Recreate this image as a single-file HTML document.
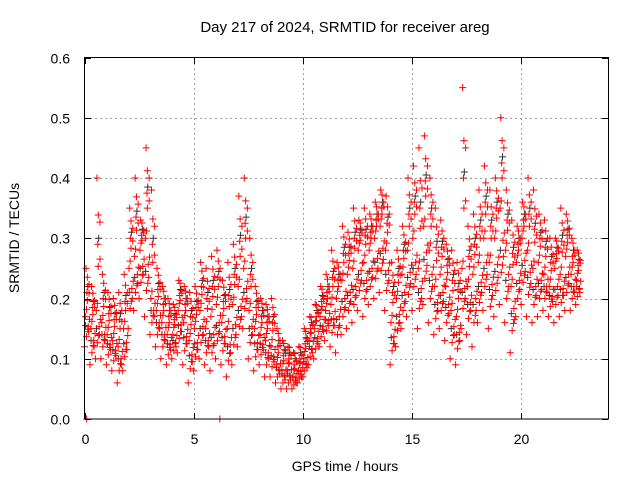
<!DOCTYPE html>
<html><head><meta charset="utf-8"><style>
body{margin:0;background:#fff;}
svg{display:block;font-family:"Liberation Sans",Arial,sans-serif;font-size:14px;}
</style></head><body>
<svg id="chart" width="640" height="480">
<text x="345" y="32" text-anchor="middle" fill="#000" style="font-size:15px">Day 217 of 2024, SRMTID for receiver areg</text>
<g id="grid"></g>
<g id="black"></g>
<g id="red"></g>
<rect x="84.5" y="57.5" width="524" height="361.5" fill="none" stroke="#000" stroke-width="1"/>
<g id="axes"></g>
<text x="345" y="471" text-anchor="middle">GPS time / hours</text>
<text transform="translate(19,238) rotate(-90)" text-anchor="middle">SRMTID / TECUs</text>
</svg>
<script>
const hours=[0,0.25,0.5,0.75,1,1.25,1.5,1.75,2,2.25,2.5,2.75,3,3.25,3.5,3.75,4,4.25,4.5,4.75,5,5.25,5.5,5.75,6,6.25,6.5,6.75,7,7.25,7.5,7.75,8,8.25,8.5,8.75,9,9.25,9.5,9.75,10,10.25,10.5,10.75,11,11.25,11.5,11.75,12,12.25,12.5,12.75,13,13.25,13.5,13.75,14,14.25,14.5,14.75,15,15.25,15.5,15.75,16,16.25,16.5,16.75,17,17.25,17.5,17.75,18,18.25,18.5,18.75,19,19.25,19.5,19.75,20,20.25,20.5,20.75,21,21.25,21.5,21.75,22,22.25,22.5,22.75];
const lowVals=[0.12,0.09,0.10,0.10,0.09,0.08,0.06,0.08,0.15,0.18,0.20,0.17,0.14,0.12,0.10,0.09,0.10,0.11,0.09,0.06,0.08,0.10,0.09,0.08,0.10,0.09,0.07,0.09,0.12,0.15,0.10,0.08,0.09,0.07,0.07,0.06,0.05,0.05,0.05,0.06,0.07,0.09,0.10,0.12,0.13,0.12,0.11,0.14,0.15,0.16,0.18,0.17,0.19,0.20,0.21,0.18,0.09,0.12,0.15,0.17,0.18,0.15,0.19,0.16,0.14,0.15,0.13,0.10,0.09,0.15,0.14,0.12,0.16,0.18,0.15,0.17,0.19,0.16,0.11,0.17,0.19,0.17,0.16,0.17,0.18,0.17,0.16,0.17,0.18,0.18,0.19];
const midVals=[0.17,0.15,0.18,0.16,0.14,0.13,0.12,0.15,0.25,0.27,0.28,0.30,0.20,0.18,0.16,0.14,0.14,0.18,0.16,0.13,0.15,0.18,0.15,0.17,0.19,0.16,0.15,0.19,0.22,0.25,0.18,0.15,0.14,0.13,0.12,0.09,0.08,0.08,0.07,0.08,0.10,0.13,0.15,0.17,0.18,0.19,0.20,0.23,0.24,0.25,0.28,0.26,0.28,0.30,0.32,0.28,0.16,0.20,0.24,0.28,0.30,0.25,0.32,0.28,0.22,0.24,0.22,0.18,0.17,0.25,0.22,0.24,0.26,0.30,0.26,0.30,0.35,0.28,0.22,0.26,0.30,0.28,0.25,0.26,0.24,0.22,0.25,0.24,0.27,0.24,0.23];
const highVals=[0.25,0.22,0.40,0.24,0.21,0.20,0.21,0.24,0.35,0.40,0.33,0.45,0.38,0.25,0.22,0.20,0.19,0.23,0.22,0.21,0.22,0.26,0.25,0.27,0.28,0.23,0.26,0.29,0.37,0.40,0.30,0.22,0.20,0.19,0.20,0.15,0.13,0.12,0.11,0.12,0.15,0.17,0.19,0.22,0.24,0.28,0.26,0.32,0.31,0.35,0.33,0.35,0.34,0.36,0.38,0.37,0.26,0.28,0.32,0.40,0.42,0.45,0.47,0.40,0.35,0.33,0.29,0.28,0.26,0.55,0.32,0.34,0.38,0.42,0.38,0.40,0.50,0.38,0.33,0.32,0.36,0.40,0.38,0.34,0.33,0.30,0.30,0.35,0.34,0.30,0.28];
const zeroHours=[0.1,6.2];
const xTicks=[0,5,10,15,20];
const yTicks=[0,0.1,0.2,0.3,0.4,0.5,0.6];
const NS='http://www.w3.org/2000/svg';
const X=h=>84.5+h*21.83, Y=v=>419-v*602.5;
function plus(g,x,y,c){const p=document.createElementNS(NS,'path');
p.setAttribute('d',`M${x-3.5},${y}h7M${x},${y-3.5}v7`);p.setAttribute('stroke',c);p.setAttribute('stroke-width','1');


g.appendChild(p);}
const grid=document.getElementById('grid'),axes=document.getElementById('axes');
function line(g,x1,y1,x2,y2,st,dash){const l=document.createElementNS(NS,'line');l.setAttribute('x1',x1);l.setAttribute('y1',y1);l.setAttribute('x2',x2);l.setAttribute('y2',y2);l.setAttribute('stroke',st);if(dash)l.setAttribute('stroke-dasharray',dash);


g.appendChild(l);}
function txt(g,x,y,s,anchor){const t=document.createElementNS(NS,'text');t.setAttribute('x',x);t.setAttribute('y',y);t.setAttribute('text-anchor',anchor);t.textContent=s;


g.appendChild(t);}
xTicks.forEach(h=>{const x=Math.round(X(h))+0.5;if(h>0)line(grid,x,58,x,419,'#a0a0a0','2,3');line(axes,x,419,x,413,'#000');line(axes,x,58,x,64,'#000');txt(axes,x,444,String(h),'middle');});
yTicks.forEach(v=>{const y=Math.round(Y(v))+0.5;if(v>0&&v<0.6)line(grid,85,y,608,y,'#a0a0a0','2,3');line(axes,85,y,91,y,'#000');line(axes,608,y,602,y,'#000');txt(axes,70,y+5,v.toFixed(1),'end');});
const red=document.getElementById('red'),blk=document.getElementById('black');
const offs=[0,0.09,0.17,0.04,0.13,0.21,0.07,0.19,0.11];
hours.forEach((h,i)=>{const lo=lowVals[i],mi=midVals[i],hi=highVals[i];
const vals=[lo,(lo*2+mi)/3,(lo+mi*2)/3,mi,(mi*2+hi)/3,(mi+hi*2)/3,hi,(lo+mi)/2,(mi+hi)/2];
vals.forEach((v,k)=>{plus(red,X(h+offs[k]),Y(v),'#ff0000');});
[(lo+mi)/2,(mi+hi)/2].forEach((v,k)=>plus(blk,X(h+0.05+k*0.1),Y(v+0.01),'#333'));
vals.slice(1,6).forEach((v,k)=>plus(red,X(h+offs[(k+4)%9]+0.02),Y(v+0.012),'#ff0000'));
});
zeroHours.forEach(h=>plus(red,X(h),Y(0),'#ff0000'));
</script>
</body></html>
